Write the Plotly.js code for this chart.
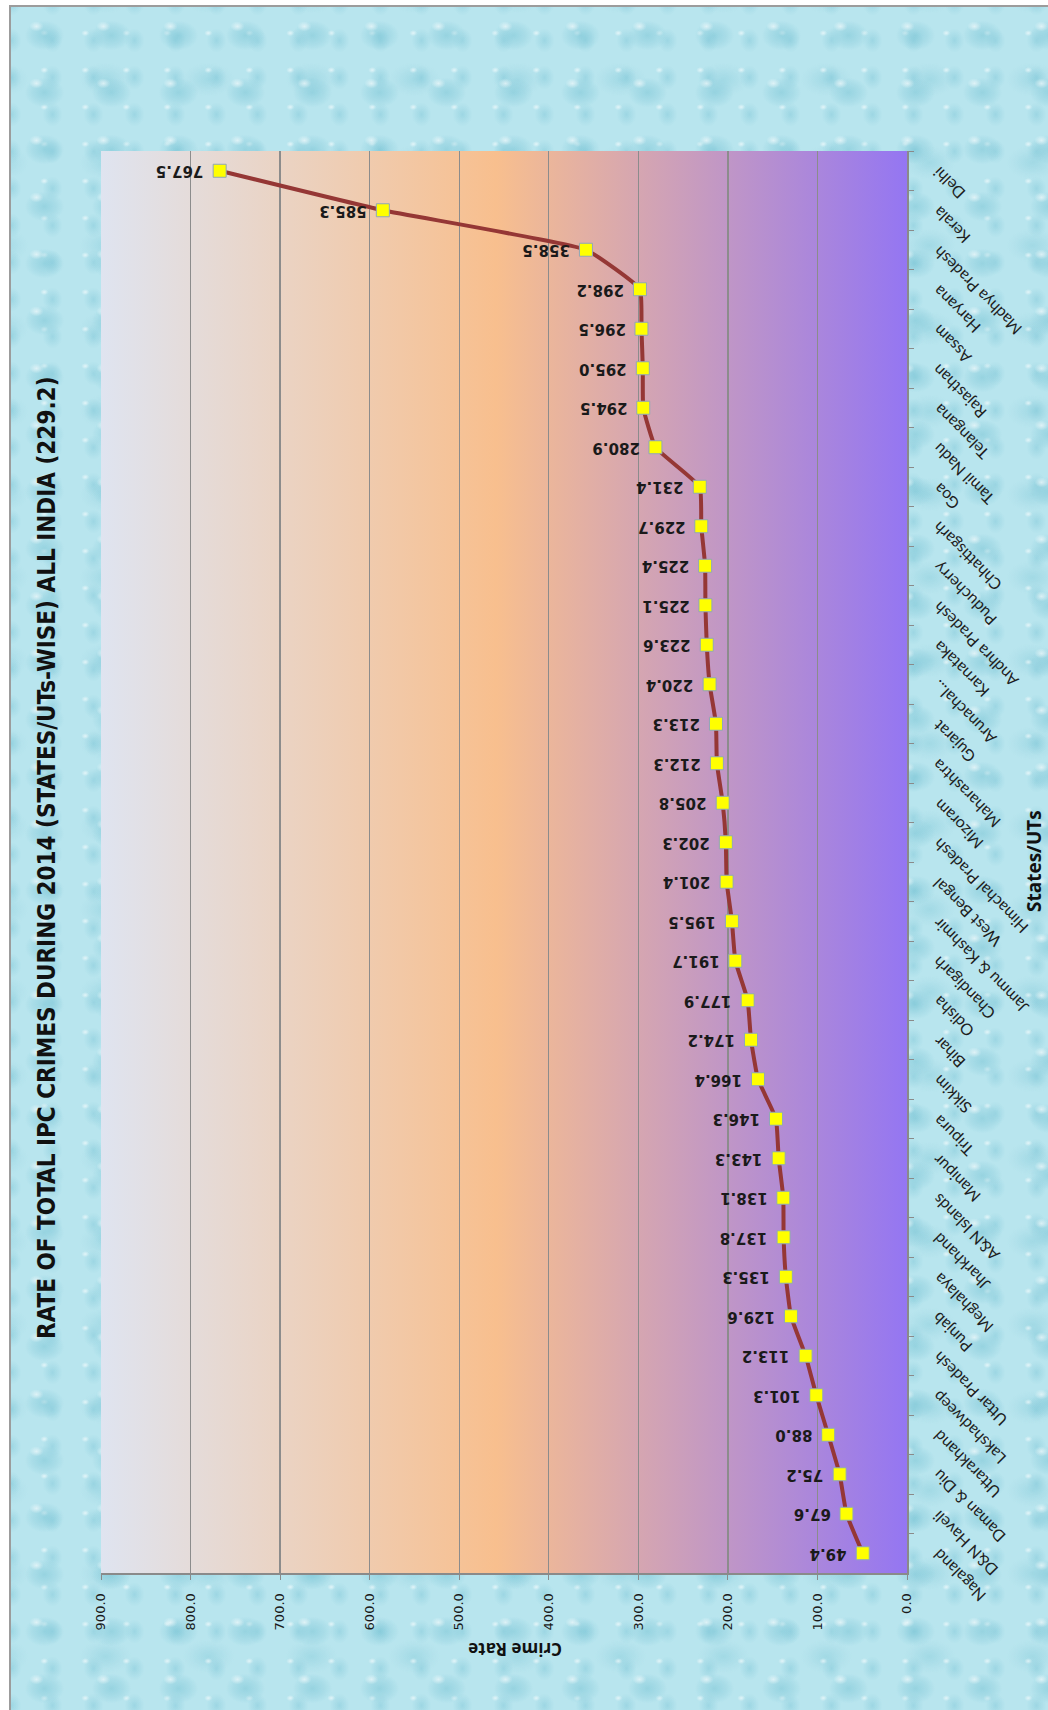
<!DOCTYPE html>
<html>
<head>
<meta charset="utf-8">
<script src="https://cdn.plot.ly/plotly-3.0.1.min.js"></script>
<style>
  html, body { margin:0; padding:0; width:1048px; height:1710px; overflow:hidden; background:#ffffff; }
  #frame {
    position:absolute; left:9px; top:5px; width:1039px; height:1705px;
    border-left:2px solid #9c9c9c; border-top:2px solid #9c9c9c; box-sizing:border-box;
    background-color:#b8e5ee;
    background-image:
      radial-gradient(ellipse 7px 5px at 38% 34%, rgba(255,255,255,0.6) 0%, rgba(255,255,255,0) 100%),
      radial-gradient(ellipse 20px 15px at 50% 50%, rgba(110,190,208,0.45) 0%, rgba(140,205,220,0.3) 65%, rgba(184,229,238,0) 100%),
      radial-gradient(ellipse 4px 3px at 30% 30%, rgba(255,255,255,0.6) 0%, rgba(255,255,255,0) 100%),
      radial-gradient(ellipse 10px 12px at 50% 50%, rgba(120,195,212,0.42) 0%, rgba(150,210,224,0.26) 65%, rgba(184,229,238,0) 100%),
      radial-gradient(ellipse 26px 17px at 50% 50%, rgba(125,198,214,0.38) 0%, rgba(160,214,226,0.2) 70%, rgba(184,229,238,0) 100%);
    background-size: 67px 57px, 67px 57px, 41px 37px, 41px 37px, 103px 83px;
    background-position: 0 0, 0 0, 21px 15px, 21px 15px, 43px 31px;
  }
  #grad {
    position:absolute; left:101px; top:151px; width:806px; height:1422px;
    background: linear-gradient(to right, #dfe4f0 0%, #f8bf8e 49%, #9476f2 100%);
  }
  #chart { position:absolute; left:0; top:0; width:1048px; height:1710px; }
</style>
</head>
<body>
<div id="frame"></div>
<div id="grad"></div>
<div id="chart"></div>
<script>
const categories = [
  "Delhi", "Kerala", "Madhya Pradesh", "Haryana", "Assam", "Rajasthan",
  "Telangana", "Tamil Nadu", "Goa", "Chhattisgarh", "Puducherry", "Andhra Pradesh",
  "Karnataka", "Arunachal...", "Gujarat", "Maharashtra", "Mizoram", "Himachal Pradesh",
  "West Bengal", "Jammu & Kashmir", "Chandigarh", "Odisha", "Bihar", "Sikkim",
  "Tripura", "Manipur", "A&N Islands", "Jharkhand", "Meghalaya", "Punjab",
  "Uttar Pradesh", "Lakshadweep", "Uttarakhand", "Daman & Diu", "D&N Haveli", "Nagaland"
];
const crimeRates = [
  767.5, 585.3, 358.5, 298.2, 296.5, 295.0,
  294.5, 280.9, 231.4, 229.7, 225.4, 225.1,
  223.6, 220.4, 213.3, 212.3, 205.8, 202.3,
  201.4, 195.5, 191.7, 177.9, 174.2, 166.4,
  146.3, 143.3, 138.1, 137.8, 135.3, 129.6,
  113.2, 101.3, 88.0, 75.2, 67.6, 49.4
];
const valueTicks = [0, 100, 200, 300, 400, 500, 600, 700, 800, 900];
const chartTitle = "RATE OF TOTAL IPC CRIMES DURING 2014 (STATES/UTs-WISE) ALL INDIA (229.2)";
const valueAxisTitle = "Crime Rate";
const categoryAxisTitle = "States/UTs";

// plot area in pixels
const PL = 101, PR = 907, PT = 151, PB = 1573;
const px2x = p => (p - PL) / (PR - PL);
const py2y = p => (PB - p) / (PB - PT);

const trace = {
  type: 'scatter',
  mode: 'lines+markers',
  x: crimeRates,
  y: categories,
  line: { color: '#953735', width: 4, shape: 'spline', smoothing: 0.35 },
  marker: { symbol: 'square', size: 13, color: '#ffff00', line: { color: '#8fa6ba', width: 1 } },
  hoverinfo: 'skip'
};

const annotations = [];
crimeRates.forEach((v, i) => {
  annotations.push({
    x: v, y: categories[i], xref: 'x', yref: 'y',
    text: v.toFixed(1), showarrow: false, textangle: 180,
    xanchor: 'right', yanchor: 'middle', xshift: -14,
    font: { family: 'DejaVu Sans', size: 15, color: '#1a1a1a', weight: 'bold' }
  });
});
categories.forEach(c => {
  annotations.push({
    x: px2x(926), xref: 'paper', y: c, yref: 'y',
    text: c, showarrow: false, textangle: -135,
    xanchor: 'left', yanchor: 'top', yshift: 10,
    font: { family: 'Lato, "Open Sans", sans-serif', size: 16, color: '#1e1e1e' }
  });
});
annotations.push({
  x: px2x(47), y: py2y(858), xref: 'paper', yref: 'paper',
  text: chartTitle, showarrow: false, textangle: -90,
  xanchor: 'center', yanchor: 'middle',
  font: { family: '"DejaVu Sans Condensed", "DejaVu Sans", sans-serif', size: 24, color: '#111111', weight: 'bold' }
});
annotations.push({
  x: px2x(515), y: py2y(1650), xref: 'paper', yref: 'paper',
  text: valueAxisTitle, showarrow: false, textangle: 180,
  xanchor: 'center', yanchor: 'middle',
  font: { family: '"Open Sans", sans-serif', size: 17, color: '#111111', weight: 'bold' }
});
annotations.push({
  x: px2x(1034), y: py2y(861), xref: 'paper', yref: 'paper',
  text: categoryAxisTitle, showarrow: false, textangle: -90,
  xanchor: 'center', yanchor: 'middle',
  font: { family: '"Open Sans", sans-serif', size: 19, color: '#111111', weight: 'bold' }
});

const layout = {
  width: 1048, height: 1710, autosize: false,
  margin: { l: PL, r: 1048 - PR, t: PT, b: 1710 - PB, pad: 0 },
  paper_bgcolor: 'rgba(0,0,0,0)',
  plot_bgcolor: 'rgba(0,0,0,0)',
  showlegend: false,
  xaxis: {
    range: [900, 0], tickvals: valueTicks, tickformat: '.1f', tickangle: -90,
    showgrid: true, gridcolor: '#8c8c8c', gridwidth: 1.3, zeroline: false,
    showline: true, linecolor: '#8a8a8a', linewidth: 2,
    ticks: 'outside', ticklen: 5, tickcolor: '#8a8a8a', ticklabelstandoff: 8,
    tickfont: { family: 'DejaVu Sans', size: 13, color: '#1a1a1a' },
    fixedrange: true
  },
  yaxis: {
    type: 'category', categoryarray: categories, categoryorder: 'array',
    range: [categories.length - 0.5, -0.5], side: 'right',
    showticklabels: false, showgrid: false, zeroline: false,
    showline: true, linecolor: '#8a8a8a', linewidth: 2,
    ticks: 'outside', tickson: 'boundaries', ticklen: 5, tickcolor: '#8a8a8a',
    fixedrange: true
  },
  annotations: annotations
};

Plotly.newPlot('chart', [trace], layout, { displayModeBar: false, staticPlot: true });
</script>
</body>
</html>
